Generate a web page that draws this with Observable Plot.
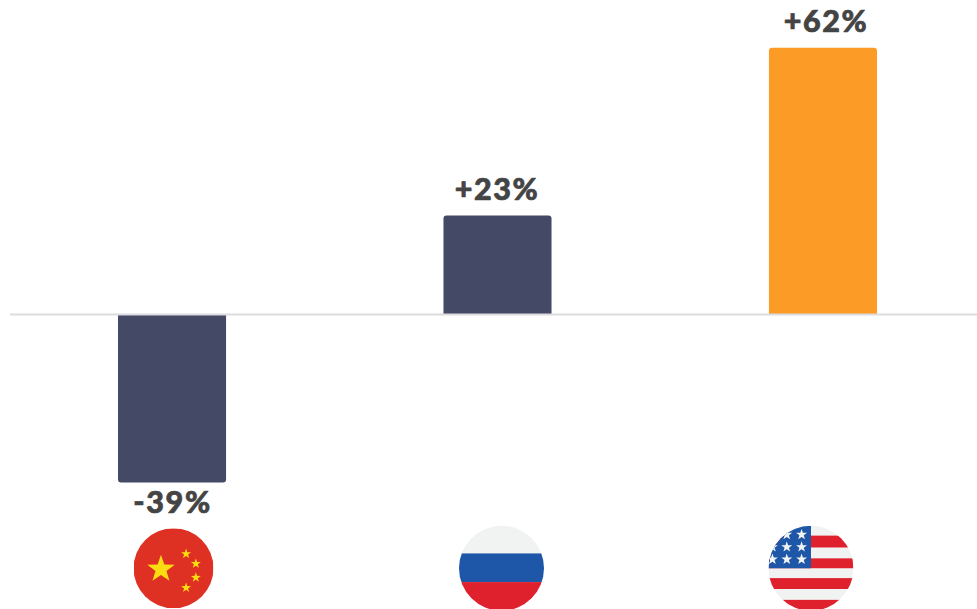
<!DOCTYPE html>
<html>
<head>
<meta charset="utf-8">
<script src="https://cdn.jsdelivr.net/npm/d3@7"></script>
<script src="https://cdn.jsdelivr.net/npm/@observablehq/plot@0.6"></script>
<style>
html,body{margin:0;padding:0;background:#fff;overflow:hidden}
svg{display:block}
svg text{letter-spacing:1.6px}
</style>
</head>
<body>
<div id="chart"></div>
<script>
const countries = ["China", "Russia", "USA"];
const values = [-39, 23, 62];
const labels = ["-39%", "+23%", "+62%"];
const barColors = ["#444966", "#444966", "#fc9b26"];
const flagNudge = [1, 3.5, -12.5];
const labelNudge = [0, -1, 2.5];
const flagLevel = -58.8;

const rows = countries.map((country, i) => ({country, value: values[i], label: labels[i], color: barColors[i], nudge: flagNudge[i], labelNudge: labelNudge[i]}));

function star(cx, cy, R, fill) {
  const pts = [];
  for (let i = 0; i < 10; i++) {
    const r = i % 2 ? R * 0.4 : R;
    const a = -Math.PI / 2 + i * Math.PI / 5;
    pts.push((cx + r * Math.cos(a)).toFixed(2) + "," + (cy + r * Math.sin(a)).toFixed(2));
  }
  return `<polygon points="${pts.join(" ")}" fill="${fill}"/>`;
}
const band = (y1, y2, fill, x = -43, w = 86) => `<rect x="${x}" y="${y1}" width="${w}" height="${y2 - y1}" fill="${fill}"/>`;
const white = "#f1f3f2", blue = "#1e57a8", red = "#df202d", yellow = "#fbdc12";
const flagSvgs = {
  China: band(-43, 43, "#df3024") + star(-13.5, 1, 15.5, yellow) + star(13.5, -15.5, 5.6, yellow) + star(24, -5, 5.6, yellow) + star(24, 10, 5.6, yellow) + star(13.5, 21, 5.6, yellow),
  Russia: band(-43, -15, white) + band(-15, 14, blue) + band(14, 43, red),
  USA: band(-43, 43, white) + band(-33, -21, red) + band(-10, 0, red) + band(10, 21, red) + band(32, 43, red) + band(-43, 0, blue, -43, 43)
    + [-39, -24.5, -9.5].flatMap(x => [-34, -21.5, -9].map(y => star(x, y, 5.8, white))).join("")
};
const flagUri = name => "data:image/svg+xml;charset=utf-8," + encodeURIComponent(
  `<svg xmlns="http://www.w3.org/2000/svg" width="86" height="86" viewBox="-43 -43 86 86">${flagSvgs[name]}</svg>`);

const labelStyle = {x: "country", y: "value", text: "label", fill: "#444444", stroke: "#444444", strokeWidth: 0.7, fontFamily: "Lato", fontWeight: 900, fontSize: 30.5, textAnchor: "middle"};

const chart = Plot.plot({
  width: 977,
  height: 609,
  marginTop: 0, marginRight: 0, marginBottom: 0, marginLeft: 10,
  x: {domain: countries, range: [118, 877], paddingInner: 0.668, paddingOuter: 0, round: false, axis: null},
  y: {domain: [-39, 62], range: [482.5, 47.7], axis: null},
  marks: [
    Plot.barY(rows.filter(d => d.value > 0), {x: "country", y: "value", fill: "color", rx1y1: 3, rx2y1: 3}),
    Plot.barY(rows.filter(d => d.value < 0), {x: "country", y: "value", fill: "color", rx1y2: 3, rx2y2: 3}),
    Plot.ruleY([0], {stroke: "#dcdcdf", strokeWidth: 2, dy: -0.5}),
    ...rows.map(d => Plot.text([d], {...labelStyle, dy: d.value > 0 ? -25.5 : 20, dx: d.labelNudge})),
    ...rows.map(d => Plot.image([d], {x: "country", y: () => flagLevel, src: e => flagUri(e.country), r: d.country === "China" ? 40 : 42.5, dx: d.nudge}))
  ]
});
document.getElementById("chart").appendChild(chart);
</script>
</body>
</html>
